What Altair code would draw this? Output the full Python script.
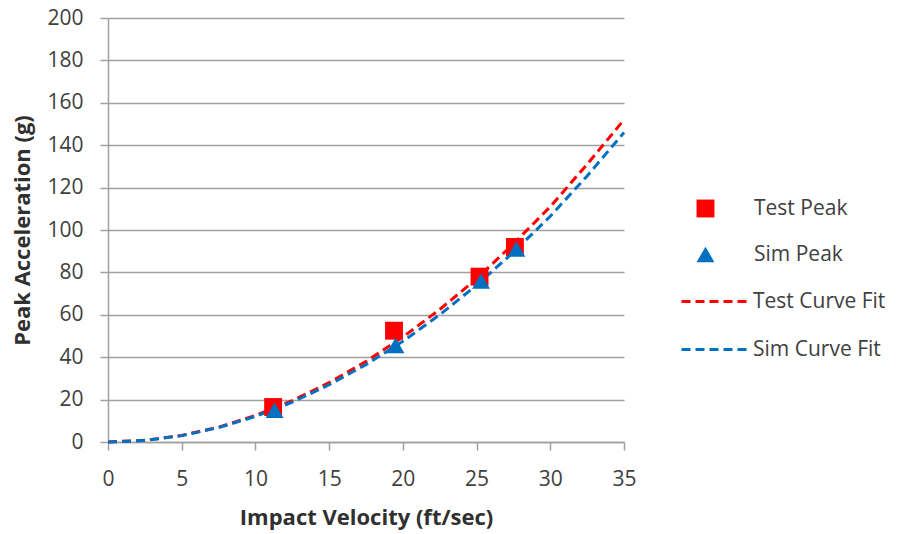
import altair as alt
import pandas as pd

# Peak data
test_v = [11.2, 19.4, 25.2, 27.6]
test_g = [16.5, 52.5, 78.0, 92.0]
sim_v = [11.3, 19.5, 25.3, 27.7]
sim_g = [15.0, 45.5, 76.0, 91.0]

# Curve fits
fit_v = [0, 2.5, 5, 7.5, 10, 12.5, 15, 17.5, 20, 22.5, 25, 27.5, 30, 32.5, 35]
test_fit_g = [0, 0.8, 3.1, 7.0, 12.5, 19.5, 28.0, 38.0, 49.5, 62.5, 77.0, 93.5, 111.0, 131.0, 152.0]
sim_fit_g = [0, 0.7, 3.0, 6.8, 12.0, 18.8, 27.0, 36.5, 47.5, 60.0, 74.0, 89.5, 106.5, 125.5, 146.0]

x_ticks = [0, 5, 10, 15, 20, 25, 30, 35]
y_ticks = [0, 20, 40, 60, 80, 100, 120, 140, 160, 180, 200]

RED = "#FF0000"
BLUE = "#0070C0"
FONT = "Open Sans"
TXT = "#404040"

xs = alt.X("v:Q", scale=alt.Scale(domain=[0, 35], nice=False),
           axis=alt.Axis(values=x_ticks, title="Impact Velocity (ft/sec)", grid=False))
ys = alt.Y("g:Q", scale=alt.Scale(domain=[0, 200], nice=False),
           axis=alt.Axis(values=y_ticks, title="Peak Acceleration (g)", grid=True))


def fit_layer(name, v, g, color, ly):
    df = pd.DataFrame({"v": v, "g": g, "series": [name] * len(v)})
    leg = alt.Legend(orient="none", legendX=572, legendY=ly, title=None,
                     labelFontSize=21, labelFont=FONT, labelColor=TXT,
                     symbolType="stroke", symbolSize=4900, symbolStrokeWidth=3,
                     symbolStrokeColor=color, labelOffset=0)
    return alt.Chart(df).mark_line(strokeWidth=3, strokeCap="butt", color=color).encode(
        x=xs, y=ys,
        strokeDash=alt.StrokeDash("series:N",
                                  scale=alt.Scale(domain=[name], range=[[9, 5]]),
                                  legend=leg),
    )


def peak_layer(name, v, g, color, shape, ly):
    df = pd.DataFrame({"v": v, "g": g, "series": [name] * len(v)})
    leg = alt.Legend(orient="none", legendX=587, legendY=ly, title=None,
                     labelFontSize=21, labelFont=FONT, labelColor=TXT,
                     symbolSize=320, labelOffset=38, symbolStrokeWidth=0,
                     symbolFillColor=color, symbolOpacity=1)
    return alt.Chart(df).mark_point(filled=True, opacity=1, size=320, color=color).encode(
        x=xs, y=ys,
        shape=alt.Shape("series:N",
                        scale=alt.Scale(domain=[name], range=[shape]),
                        legend=leg),
    )


chart = alt.layer(
    fit_layer("Test Curve Fit", fit_v, test_fit_g, RED, 247),
    fit_layer("Sim Curve Fit", fit_v, sim_fit_g, BLUE, 295),
    peak_layer("Test Peak", test_v, test_g, RED, "square", 180),
    peak_layer("Sim Peak", sim_v, sim_g, BLUE, "triangle-up", 226),
).resolve_scale(
    shape="independent", strokeDash="independent"
).properties(
    width=516, height=424,
    autosize=alt.AutoSizeParams(type="none"),
    padding={"left": 108, "top": 18, "right": 283, "bottom": 92},
    background="white",
).configure_view(stroke=None).configure_axis(
    domainColor="#a0a0a0", domainWidth=1.5,
    gridColor="#a0a0a0", gridWidth=1.5,
    tickColor="#a0a0a0", tickWidth=1.5, tickSize=8,
    labelFont=FONT, labelFontSize=21, labelColor=TXT,
    titleFont=FONT, titleFontSize=22, titleFontWeight="bold", titleColor="#303030",
).configure_axisX(labelPadding=18, titlePadding=18, labelFlush=False).configure_axisY(
    labelPadding=17, titlePadding=12)

chart.save("out.html", embed_options={"renderer": "svg", "actions": False})
